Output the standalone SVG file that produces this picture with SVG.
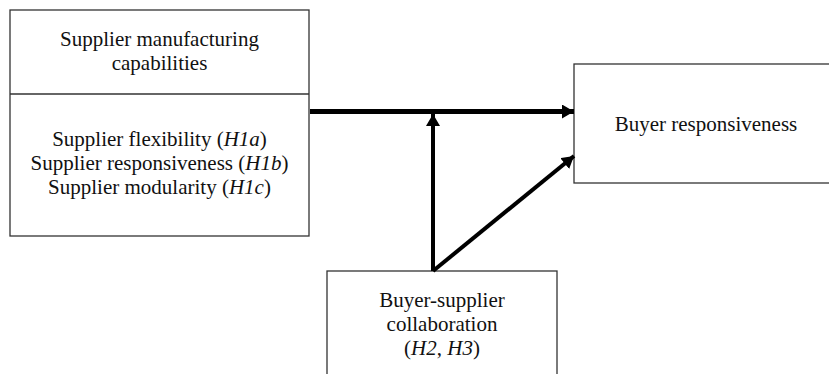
<svg xmlns="http://www.w3.org/2000/svg" width="829" height="374" viewBox="0 0 829 374">
<style>
.box{fill:#fff;stroke:#333;stroke-width:1.3}
.t{font-family:"Liberation Serif","Times New Roman",serif;font-size:21px;fill:#111;text-anchor:middle}
.c{fill:none;stroke:#000}
</style>
<defs>
<marker id="ah" markerUnits="userSpaceOnUse" viewBox="0 0 12 14" refX="12" refY="7" markerWidth="12" markerHeight="14" orient="auto">
<path d="M0,0 L12,7 L0,14 Z" fill="#000"/>
</marker>
</defs>
<rect width="829" height="374" fill="#fff"/>
<g id="node-supplier">
<rect class="box" x="10" y="10" width="299" height="226"/>
<line x1="10" y1="94" x2="309" y2="94" stroke="#333" stroke-width="1.3"/>
<text class="t" x="159.5" y="46">Supplier manufacturing</text>
<text class="t" x="159.5" y="70">capabilities</text>
<text class="t" x="159.5" y="146">Supplier flexibility (<tspan font-style="italic">H1a</tspan>)</text>
<text class="t" x="159.5" y="170">Supplier responsiveness (<tspan font-style="italic">H1b</tspan>)</text>
<text class="t" x="159.5" y="194">Supplier modularity (<tspan font-style="italic">H1c</tspan>)</text>
</g>
<g id="node-buyer">
<rect class="box" x="574" y="64" width="270" height="119"/>
<text class="t" x="706" y="131">Buyer responsiveness</text>
</g>
<g id="node-collab">
<rect class="box" x="327" y="271" width="230" height="120"/>
<text class="t" x="442" y="307">Buyer-supplier</text>
<text class="t" x="442" y="331">collaboration</text>
<text class="t" x="442" y="355">(<tspan font-style="italic">H2</tspan>, <tspan font-style="italic">H3</tspan>)</text>
</g>
<g id="connectors">
<line class="c" x1="310" y1="111.5" x2="574" y2="111.5" stroke-width="5" marker-end="url(#ah)"/>
<line class="c" x1="433" y1="271" x2="433" y2="114" stroke-width="4" marker-end="url(#ah)"/>
<line class="c" x1="433" y1="271" x2="574" y2="156" stroke-width="4" marker-end="url(#ah)"/>
</g>
</svg>
